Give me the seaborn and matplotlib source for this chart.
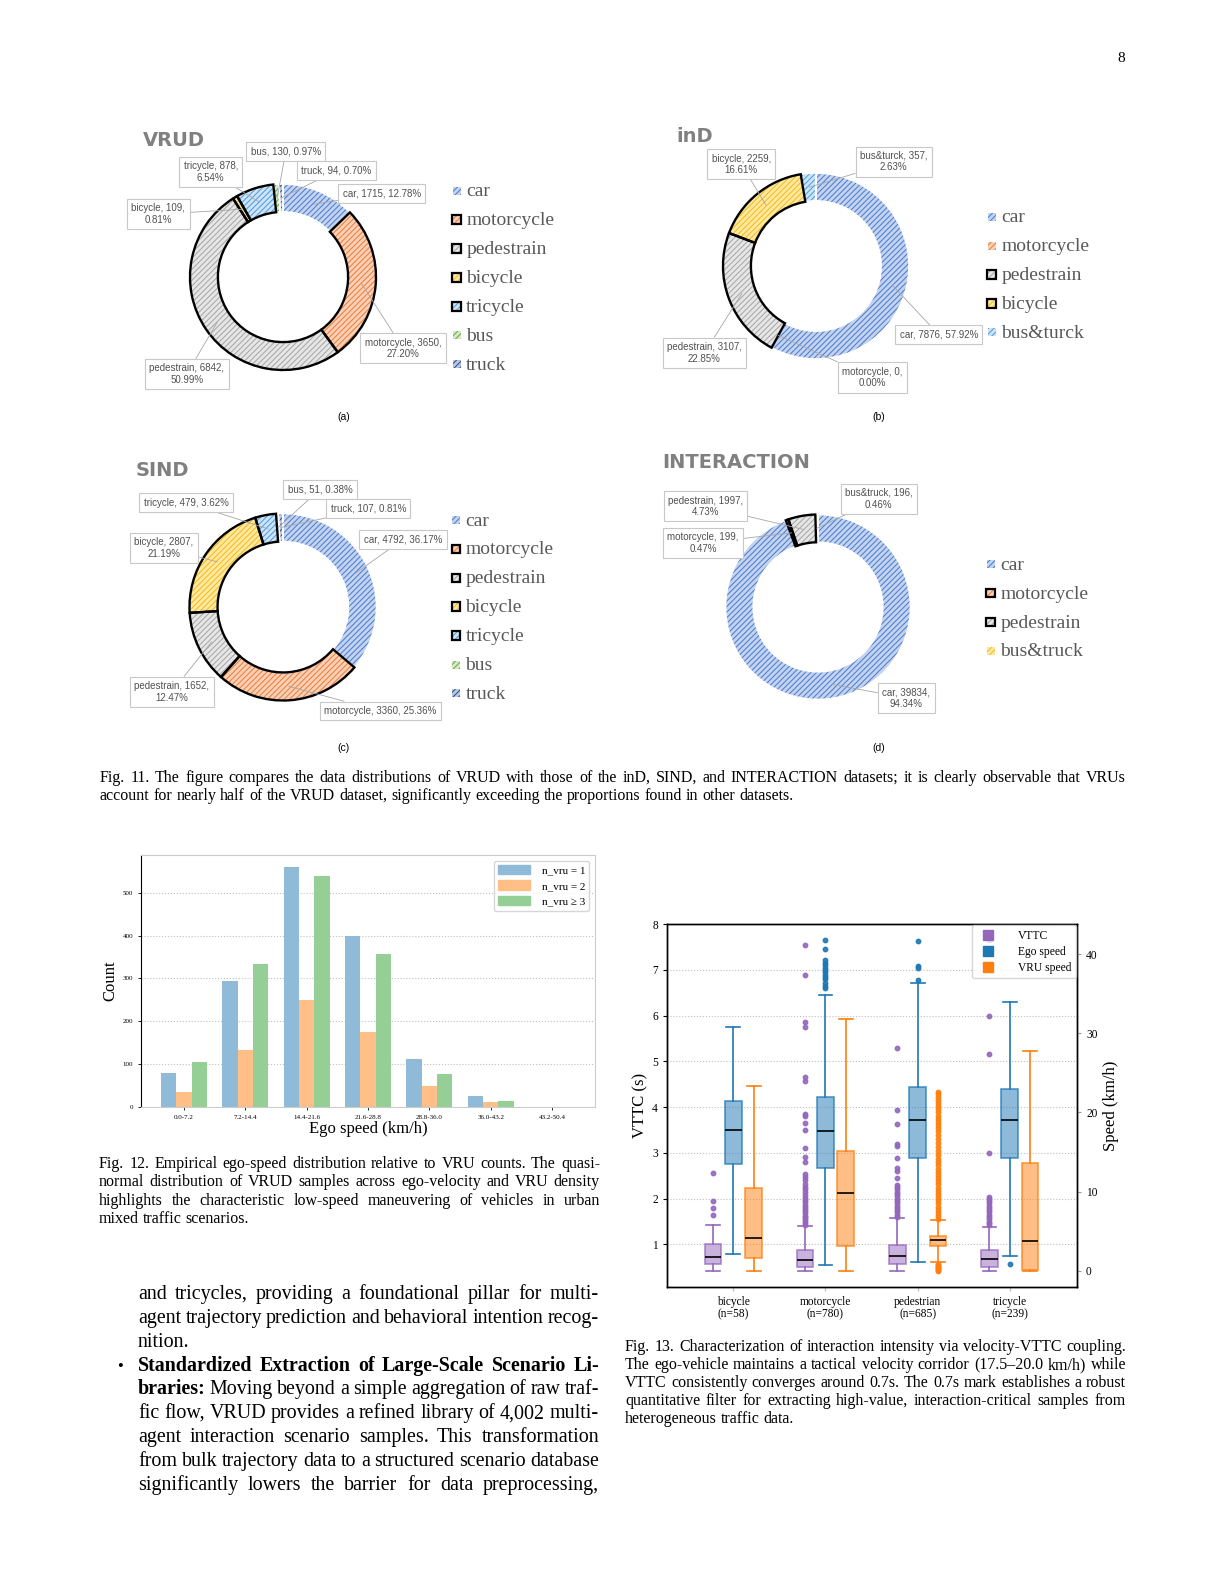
import numpy as np
import pandas as pd
import matplotlib
matplotlib.use("Agg")
import matplotlib.pyplot as plt
import seaborn as sns
from matplotlib.patches import Rectangle, Patch
from matplotlib.lines import Line2D
from matplotlib.colors import to_rgba

W, H = 1224, 1584
SERIF = ["Liberation Serif", "DejaVu Serif"]
SANS = ["Liberation Sans", "DejaVu Sans"]

# --- Fig. 11: dataset composition (donuts) ---
vrud_names = ["car", "motorcycle", "pedestrain", "bicycle", "tricycle", "bus", "truck"]
vrud_counts = [1715, 3650, 6842, 109, 878, 130, 94]
ind_names = ["car", "motorcycle", "pedestrain", "bicycle", "bus&turck"]
ind_counts = [7876, 0, 3107, 2259, 357]
sind_names = ["car", "motorcycle", "pedestrain", "bicycle", "tricycle", "bus", "truck"]
sind_counts = [4792, 3360, 1652, 2807, 479, 51, 107]
inter_names = ["car", "motorcycle", "pedestrain", "bus&truck"]
inter_counts = [39834, 199, 1997, 196]

# --- Fig. 12: ego speed histogram by VRU count ---
speed_bins = ["0.0-7.2", "7.2-14.4", "14.4-21.6", "21.6-28.8", "28.8-36.0", "36.0-43.2", "43.2-50.4"]
vru_groups = ["n_vru = 1", "n_vru = 2", "n_vru ≥ 3"]
vru1_counts = [80, 293, 560, 398, 113, 26, 1]
vru2_counts = [35, 134, 249, 174, 49, 12, 1]
vru3_counts = [106, 333, 539, 356, 78, 14, 1]

# --- Fig. 13: VTTC / speed box plots (whislo, q1, med, q3, whishi) ---
vru_types = ["bicycle", "motorcycle", "pedestrian", "tricycle"]
type_n = [58, 780, 685, 239]
vttc_stats = [[0.43, 0.57, 0.72, 1.01, 1.42],
              [0.43, 0.51, 0.65, 0.88, 1.40],
              [0.43, 0.57, 0.745, 0.99, 1.58],
              [0.43, 0.51, 0.68, 0.88, 1.39]]
ego_stats = [[2.1, 13.5, 17.8, 21.5, 30.8],
             [0.7, 13.0, 17.6, 21.9, 34.8],
             [1.1, 14.3, 19.1, 23.2, 36.3],
             [1.9, 14.2, 19.1, 22.9, 34.0]]
vru_stats = [[0.0, 1.6, 4.1, 10.4, 23.3],
             [0.0, 3.1, 9.8, 15.1, 31.8],
             [1.1, 3.1, 3.9, 4.4, 6.4],
             [0.0, 0.1, 3.8, 13.6, 27.8]]
vttc_fliers = [
    [1.65, 1.80, 1.95, 2.55],
    [1.43, 1.47, 1.51, 1.55, 1.59, 1.63, 1.68, 1.72, 1.77, 1.82, 1.87, 1.92, 1.97, 2.02,
     2.08, 2.14, 2.20, 2.26, 2.32, 2.40, 2.47, 2.54, 2.80, 2.90, 3.10, 3.49, 3.66, 3.81,
     3.85, 4.56, 4.65, 5.74, 5.87, 6.88, 7.55],
    [1.61, 1.65, 1.70, 1.75, 1.80, 1.85, 1.90, 1.95, 2.00, 2.05, 2.10, 2.15, 2.20, 2.25,
     2.30, 2.46, 2.60, 2.66, 2.88, 3.16, 3.20, 3.63, 3.94, 5.29],
    [1.42, 1.46, 1.50, 1.55, 1.60, 1.65, 1.70, 1.75, 1.80, 1.85, 1.90, 1.95, 2.00, 2.04,
     3.00, 5.17, 5.98, 7.65],
]
ego_fliers = [
    [],
    [35.7, 36.0, 36.4, 36.8, 37.1, 37.4, 37.7, 38.0, 38.3, 38.6, 38.9, 39.2, 40.7, 41.8],
    [36.7, 38.3, 38.5, 41.6],
    [0.84],
]
vru_fliers = [
    [],
    [],
    [0.0, 0.12, 0.25, 0.38, 0.5, 0.62, 0.75, 0.85, 6.5, 6.9, 7.3, 7.7, 8.1, 8.5, 8.9, 9.3,
     9.7, 10.1, 10.5, 10.9, 11.3, 11.7, 12.1, 12.5, 12.9, 13.3, 13.7, 14.1, 14.6, 15.1,
     15.6, 16.1, 16.6, 17.1, 17.6, 18.0, 18.4, 18.8, 19.2, 19.6, 20.0, 20.4, 20.8, 21.2,
     21.6, 22.0, 22.3, 22.6],
    [],
]

# donut colours: (fill, hatch)
donut_style = {
    "car": ("#c2d3f0", "#4a78cc"),
    "motorcycle": ("#fbd0b5", "#ea7a3a"),
    "pedestrain": ("#e6e6e6", "#a4a4a4"),
    "bicycle": ("#ffe8a0", "#f2b918"),
    "tricycle": ("#cde3f6", "#4a9ade"),
    "bus": ("#d6e9c9", "#62a83a"),
    "truck": ("#b8c6e0", "#2a4d8f"),
    "bus&turck": ("#cde3f6", "#4a9ade"),
    "bus&truck": ("#ffe8a0", "#f2b918"),
}
HATCH = "//////"

plt.rcParams["font.family"] = SERIF
plt.rcParams["hatch.linewidth"] = 0.7

fig = plt.figure(figsize=(W / 100, H / 100), dpi=100)
renderer = fig.canvas.get_renderer()


def rect(x0, y0, x1, y1):
    return [x0 / W, 1 - y1 / H, (x1 - x0) / W, (y1 - y0) / H]


page = fig.add_axes([0, 0, 1, 1], zorder=10)
page.set_xlim(0, W)
page.set_ylim(H, 0)
page.axis("off")


def text_line(parts, x0, x1, y, size, justify=True):
    arts, widths = [], []
    for word, weight in parts:
        t = fig.text(0, 0, word, fontsize=size, family=SERIF, weight=weight,
                     va="baseline", ha="left")
        arts.append(t)
        widths.append(t.get_window_extent(renderer).width)
    space = size * 0.25 * 100 / 72
    need = sum(widths) + 0.6 * space * (len(arts) - 1)
    if need > x1 - x0:
        k = (x1 - x0) / need
        for t in arts:
            t.set_fontsize(size * k)
        widths = [w * k for w in widths]
        space *= k
    gap = (x1 - x0 - sum(widths)) / (len(arts) - 1) if justify and len(arts) > 1 else space
    x = x0
    for t, w in zip(arts, widths):
        t.set_position((x / W, 1 - y / H))
        x += w + gap


def paragraph(lines, x0, x1, y0, dy, size, last_left=True):
    for i, line in enumerate(lines):
        parts = line if isinstance(line, list) else [(w, "normal") for w in line.split()]
        text_line(parts, x0, x1, y0 + i * dy, size,
                  justify=not (last_left and i == len(lines) - 1))


def donut(names, counts, cx, cy, r, outlined, label_xy, breaks,
          title, title_xy, leg_x, leg_y, tag, tag_xy):
    k = 1.12
    ax = fig.add_axes(rect(cx - k * r, cy - k * r, cx + k * r, cy + k * r))
    faces = [donut_style[n][0] for n in names]
    wedges, _ = ax.pie(counts, colors=faces, startangle=90, counterclock=False,
                       radius=1, wedgeprops=dict(width=0.3, linewidth=0))
    for w, n in zip(wedges, names):
        w.set_edgecolor(donut_style[n][1])
        w.set_linewidth(0)
        w.set_hatch(HATCH)
    ax.pie(counts, colors=["none"] * len(counts), startangle=90, counterclock=False,
           radius=1, wedgeprops=dict(width=0.3, edgecolor="white", linewidth=1.2))
    outl, _ = ax.pie(counts, colors=["none"] * len(counts), startangle=90,
                     counterclock=False, radius=1, wedgeprops=dict(width=0.3, linewidth=1.7))
    for w, n in zip(outl, names):
        w.set_edgecolor("black" if n in outlined else "none")
    ax.set_xlim(-k, k)
    ax.set_ylim(-k, k)
    ax.set_aspect("equal")
    total = sum(counts)
    for w, n, c, (px, py), brk in zip(wedges, names, counts, label_xy, breaks):
        pct = 100 * c / total
        txt = f"{n}, {c},\n{pct:.2f}%" if brk else f"{n}, {c}, {pct:.2f}%"
        ang = np.deg2rad((w.theta1 + w.theta2) / 2)
        ax.annotate(txt, xy=(0.85 * np.cos(ang), 0.85 * np.sin(ang)),
                    xytext=(px, H - py), textcoords="figure pixels",
                    ha="center", va="center", fontsize=7, family=SANS, color="#505050",
                    bbox=dict(boxstyle="square,pad=0.45", fc="white", ec="#c8c8c8", lw=0.8),
                    arrowprops=dict(arrowstyle="-", color="#a6a6a6", lw=0.6,
                                    shrinkA=0, shrinkB=0),
                    annotation_clip=False, zorder=6)
    page.text(title_xy[0], title_xy[1], title, fontsize=14, weight="bold",
              family=["DejaVu Sans"], color="#808080", ha="left", va="center")
    for i, n in enumerate(names):
        y = leg_y + i * 28.9
        fc, hc = donut_style[n]
        s = 8.5 if n in outlined else 8
        page.add_patch(Rectangle((leg_x - s / 2, y - s / 2), s, s, facecolor=fc,
                                 edgecolor=hc, lw=0, hatch=HATCH))
        if n in outlined:
            page.add_patch(Rectangle((leg_x - s / 2, y - s / 2), s, s, fill=False,
                                     edgecolor="black", lw=1.6))
        page.text(leg_x + 9.5, y + 5.5, n, fontsize=14, family=SERIF,
                  color="#595959", ha="left", va="baseline")
    page.text(tag_xy[0], tag_xy[1], tag, fontsize=7.5, family=SANS, ha="center", va="center")


# page number
page.text(1121, 58, "8", fontsize=11, family=SERIF, ha="center", va="center")

donut(vrud_names, vrud_counts, 283, 277, 93,
      ["motorcycle", "pedestrain", "bicycle", "tricycle"],
      [(381.7, 193.3), (403, 348.3), (186.7, 374.2), (158.3, 214.2), (210.8, 172.2),
       (285.8, 151.7), (336.3, 170.8)],
      [False, True, True, True, True, False, False],
      "VRUD", (143, 141), 456.7, 190.7, "(a)", (344, 417))
donut(ind_names, ind_counts, 816, 266, 93,
      ["pedestrain", "bicycle"],
      [(938.8, 334.7), (872.5, 377.5), (704.5, 352.8), (741.3, 164.3), (893.8, 161.7)],
      [False, True, True, True, True],
      "inD", (676, 137), 991.7, 216.7, "(b)", (879, 417))
donut(sind_names, sind_counts, 283, 607, 93.5,
      ["motorcycle", "pedestrain", "bicycle", "tricycle"],
      [(403, 539.3), (380.3, 711), (171.7, 692), (163.8, 547.8), (186.3, 502.5),
       (320, 489.2), (368.3, 508.8)],
      [False, False, True, True, False, False, False],
      "SIND", (136, 470), 456, 520, "(c)", (344, 748))
donut(inter_names, inter_counts, 818, 607, 92.5,
      ["motorcycle", "pedestrain"],
      [(906.5, 698), (703, 543), (705.5, 506.3), (878.8, 498.7)],
      [True, True, True, True],
      "INTERACTION", (662, 463), 990.7, 564.3, "(d)", (879, 748))

paragraph([
    "Fig. 11. The figure compares the data distributions of VRUD with those of the inD, SIND, "
    "and INTERACTION datasets; it is clearly observable that VRUs",
    "account for nearly half of the VRUD dataset, significantly exceeding the proportions "
    "found in other datasets.",
], 100, 1126, 782, 17.5, 11.5)

# --- Fig. 12 bar chart ---
ax12 = fig.add_axes(rect(141, 855, 595, 1107))
df12 = pd.DataFrame({
    "bin": speed_bins * 3,
    "count": vru1_counts + vru2_counts + vru3_counts,
    "group": [g for g in vru_groups for _ in speed_bins],
})
bar_colors = ["#8fbbd9", "#ffbf86", "#95cf95"]
sns.barplot(data=df12, x="bin", y="count", hue="group", order=speed_bins,
            hue_order=vru_groups, palette=bar_colors, width=0.75, saturation=1,
            linewidth=0, errorbar=None, ax=ax12)
ax12.set_xlim(-0.7, 6.7)
ax12.set_ylim(0, 588)
ax12.set_yticks([0, 100, 200, 300, 400, 500])
ax12.yaxis.grid(True, linestyle=":", color="#c0c0c0", lw=0.8)
ax12.set_axisbelow(True)
ax12.tick_params(labelsize=5, length=2, width=0.6)
ax12.set_xlabel("Ego speed (km/h)", fontsize=12, labelpad=1)
ax12.set_ylabel("Count", fontsize=12, labelpad=3)
for s in ["top", "right", "bottom"]:
    ax12.spines[s].set_color("#cccccc")
    ax12.spines[s].set_linewidth(0.8)
ax12.spines["left"].set_color("black")
ax12.legend(handles=[Patch(color=c, label=g) for c, g in zip(bar_colors, vru_groups)],
            loc="upper right", fontsize=8, handlelength=2.9, handleheight=0.9,
            handletextpad=1.0, labelspacing=0.45, edgecolor="#cccccc", fancybox=True)

paragraph([
    "Fig. 12. Empirical ego-speed distribution relative to VRU counts. The quasi-",
    "normal distribution of VRUD samples across ego-velocity and VRU density",
    "highlights the characteristic low-speed maneuvering of vehicles in urban",
    "mixed traffic scenarios.",
], 99, 600, 1168, 18.3, 11.5)

# --- Fig. 13 box plot ---
ax13 = fig.add_axes(rect(667, 924, 1077, 1287))
ax13b = ax13.twinx()
pos = np.arange(len(vru_types))


def bstats(rows, fl):
    return [dict(whislo=a, q1=b, med=c, q3=d, whishi=e, fliers=f)
            for (a, b, c, d, e), f in zip(rows, fl)]


def draw_boxes(ax, rows, fl, offset, color):
    ax.bxp(bstats(rows, fl), positions=pos + offset, widths=0.18, capwidths=0.15,
           patch_artist=True, manage_ticks=False,
           boxprops=dict(facecolor=to_rgba(color, 0.5), edgecolor=to_rgba(color, 0.75), lw=1.2),
           whiskerprops=dict(color=color, lw=1.2),
           capprops=dict(color=color, lw=1.2),
           medianprops=dict(color="black", lw=1.2),
           flierprops=dict(marker="o", markersize=3.2, markerfacecolor=color,
                           markeredgecolor=color, alpha=0.9))


PURPLE, BLUE, ORANGE = "#9467bd", "#1f77b4", "#ff7f0e"
draw_boxes(ax13, vttc_stats, vttc_fliers, -0.22, PURPLE)
draw_boxes(ax13b, ego_stats, ego_fliers, 0.0, BLUE)
draw_boxes(ax13b, vru_stats, vru_fliers, 0.22, ORANGE)
ax13.set_xlim(-0.72, 3.73)
ax13.set_ylim(0.07, 8)
ax13b.set_ylim(-2.06, 43.8)
ax13.set_yticks(range(1, 9))
ax13b.set_yticks([0, 10, 20, 30, 40])
ax13.set_xticks(pos)
ax13.set_xticklabels([f"{t}\n(n={n})" for t, n in zip(vru_types, type_n)], fontsize=8.3,
                     linespacing=1.0)
ax13.tick_params(axis="y", labelsize=8.3, length=3)
ax13.tick_params(axis="x", length=3, color="#bbbbbb")
ax13b.tick_params(axis="y", labelsize=8.3, length=3, color="#999999")
ax13.yaxis.grid(True, linestyle=":", color="#c0c0c0", lw=0.8)
ax13.set_ylabel("VTTC (s)", fontsize=12, labelpad=3)
ax13b.set_ylabel("Speed (km/h)", fontsize=12, labelpad=4)
for a in (ax13, ax13b):
    for s in a.spines.values():
        s.set_color("black")
        s.set_linewidth(1.0)
ax13b.legend(handles=[Line2D([], [], marker="s", ls="", color=c, markersize=6.5, label=l)
                      for c, l in zip([PURPLE, BLUE, ORANGE], ["VTTC", "Ego speed", "VRU speed"])],
             loc="upper right", fontsize=8.3, borderaxespad=0.1, handletextpad=1.6,
             labelspacing=0.35, edgecolor="#cccccc")

paragraph([
    "Fig. 13. Characterization of interaction intensity via velocity-VTTC coupling.",
    "The ego-vehicle maintains a tactical velocity corridor (17.5–20.0 km/h) while",
    "VTTC consistently converges around 0.7s. The 0.7s mark establishes a robust",
    "quantitative filter for extracting high-value, interaction-critical samples from",
    "heterogeneous traffic data.",
], 625, 1126, 1351, 18.0, 11.5)

# --- body text ---
body = [
    "and tricycles, providing a foundational pillar for multi-",
    "agent trajectory prediction and behavioral intention recog-",
    "nition.",
    [(w, "bold") for w in "Standardized Extraction of Large-Scale Scenario Li-".split()],
    [("braries:", "bold")] + [(w, "normal") for w in
                              "Moving beyond a simple aggregation of raw traf-".split()],
    "fic flow, VRUD provides a refined library of 4,002 multi-",
    "agent interaction scenario samples. This transformation",
    "from bulk trajectory data to a structured scenario database",
    "significantly lowers the barrier for data preprocessing,",
]
for i, line in enumerate(body):
    parts = line if isinstance(line, list) else [(w, "normal") for w in line.split()]
    text_line(parts, 138, 599, 1299 + i * 23.85, 14.4, justify=(i != 2))
page.text(120, 1299 + 3 * 23.85, "•", fontsize=12, family=SERIF, ha="center", va="baseline")

fig.savefig("out.png", dpi=100)
